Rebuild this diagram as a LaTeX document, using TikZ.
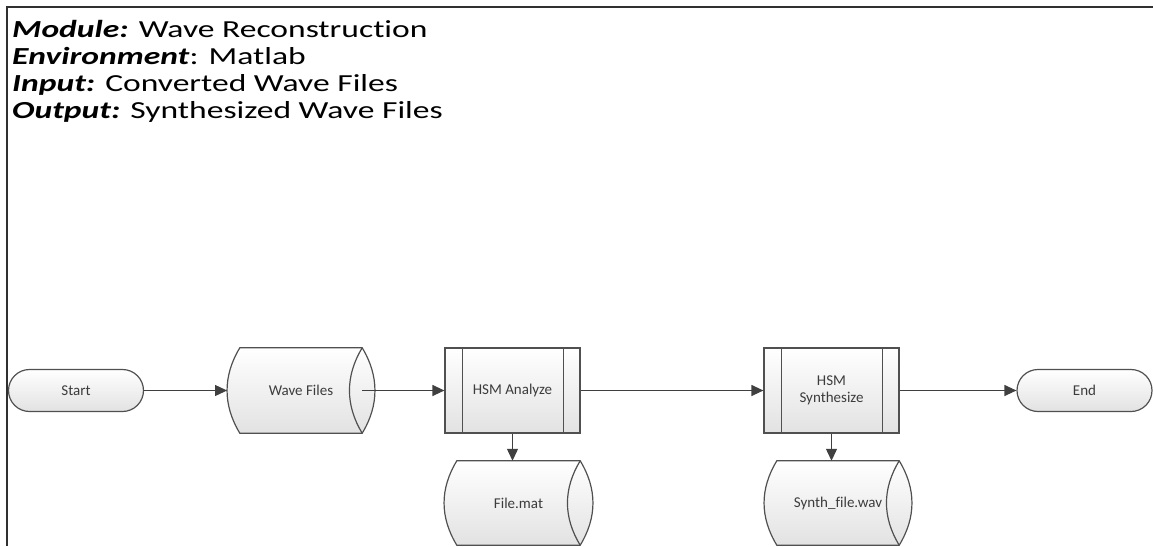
\documentclass[tikz,border=0pt]{standalone}
\usepackage{fontspec}
\setmainfont{Carlito}[Ligatures=NoCommon]
\newfontfamily\hdrfont{Carlito}[FakeStretch=1.37, Ligatures=NoCommon]
\usetikzlibrary{arrows.meta,calc}
\pgfdeclarelayer{background}
\pgfsetlayers{background,main}

\definecolor{linegray}{HTML}{505050}
\definecolor{arrowgray}{HTML}{404040}
\definecolor{textgray}{HTML}{3C3C3C}
\definecolor{shadegray}{HTML}{E2E2E2}
\definecolor{framegray}{HTML}{303030}

\tikzset{
  shapeline/.style={draw=linegray, line width=1.2pt},
  shaded/.style={top color=white, bottom color=shadegray},
  nodetext/.style={text=textgray, font=\fontsize{15}{17.5}\selectfont, align=center},
  terminal/.style={shapeline, shaded, nodetext, rounded corners=21pt,
    minimum width=135pt, minimum height=42pt, inner sep=0pt},
  procbox/.style={shapeline, shaded, nodetext,
    minimum width=135pt, minimum height=85pt, inner sep=0pt},
  datadrum/.style={nodetext, minimum width=122pt, minimum height=85pt, inner sep=0pt},
  flow/.style={draw=arrowgray, line width=1.2pt,
    -{Triangle[length=12pt, width=11pt]}},
  hdr/.style={anchor=base west, inner sep=0pt, font=\hdrfont\fontsize{24.5}{28}\selectfont}
}

% outline of a stored-data drum around a named node
\newcommand\drumoutline[1]{%
  \begin{pgfonlayer}{background}
    \path[shapeline, shaded]
      (#1.north west) .. controls +(-17,28) and +(-17,-28) .. (#1.south west)
      -- (#1.south east) .. controls +(17,-28) and +(17,28) .. (#1.north east)
      -- cycle;
    \draw[shapeline]
      (#1.north east) .. controls +(-17,28) and +(-17,-28) .. (#1.south east);
  \end{pgfonlayer}}

% inner bars of a predefined-process box
\newcommand\procbars[1]{%
  \draw[shapeline] ($(#1.north west)+(18,0)$) -- ($(#1.south west)+(18,0)$);
  \draw[shapeline] ($(#1.north east)+(-17,0)$) -- ($(#1.south east)+(-17,0)$);}

\begin{document}
\begin{tikzpicture}[x=1pt, y=-1pt]
  \useasboundingbox (0,0) rectangle (1153,546);

  % frame
  \draw[framegray, line width=2pt] (7,546) -- (7,6.5) -- (1153,6.5);

  % header
  \node[hdr] (hmodule) at (12,37.5) {\textbf{\textit{Module:}} Wave Reconstruction};
  \node[hdr] (henv)    at (12,64)   {\textbf{\textit{Environment}}: Matlab};
  \node[hdr] (hinput)  at (12,91)   {\textbf{\textit{Input:}} Converted Wave Files};
  \node[hdr] (houtput) at (12,118.5) {\textbf{\textit{Output:}} Synthesized Wave Files};

  % main row
  \node[terminal] (start) at (76,390.5) {Start};
  \node[datadrum] (wave)  at (301,390.5) {Wave Files};
  \drumoutline{wave}
  \node[procbox]  (hsma)  at (512.5,390.5) {HSM Analyze};
  \procbars{hsma}
  \node[procbox]  (hsms)  at (831.5,390.5) {HSM\\Synthesize};
  \procbars{hsms}
  \node[terminal] (end)   at (1084.5,390.5) {End};

  % outputs
  \node[datadrum, minimum width=123pt, minimum height=84pt] (fmat) at (518.5,503) {File.mat};
  \drumoutline{fmat}
  \node[datadrum, minimum height=84pt] (synth) at (838,503) {Synth\_file.wav};
  \drumoutline{synth}

  % connectors
  \draw[flow] (start.east) -- ($(wave.west)+(-12.75,0)$);
  \draw[flow] (wave.east) -- (hsma.west);
  \draw[flow] (hsma.east) -- (hsms.west);
  \draw[flow] (hsms.east) -- (end.west);
  \draw[flow] (hsma.south) -- (hsma.south |- fmat.north);
  \draw[flow] (hsms.south) -- (hsms.south |- synth.north);
\end{tikzpicture}
\end{document}
